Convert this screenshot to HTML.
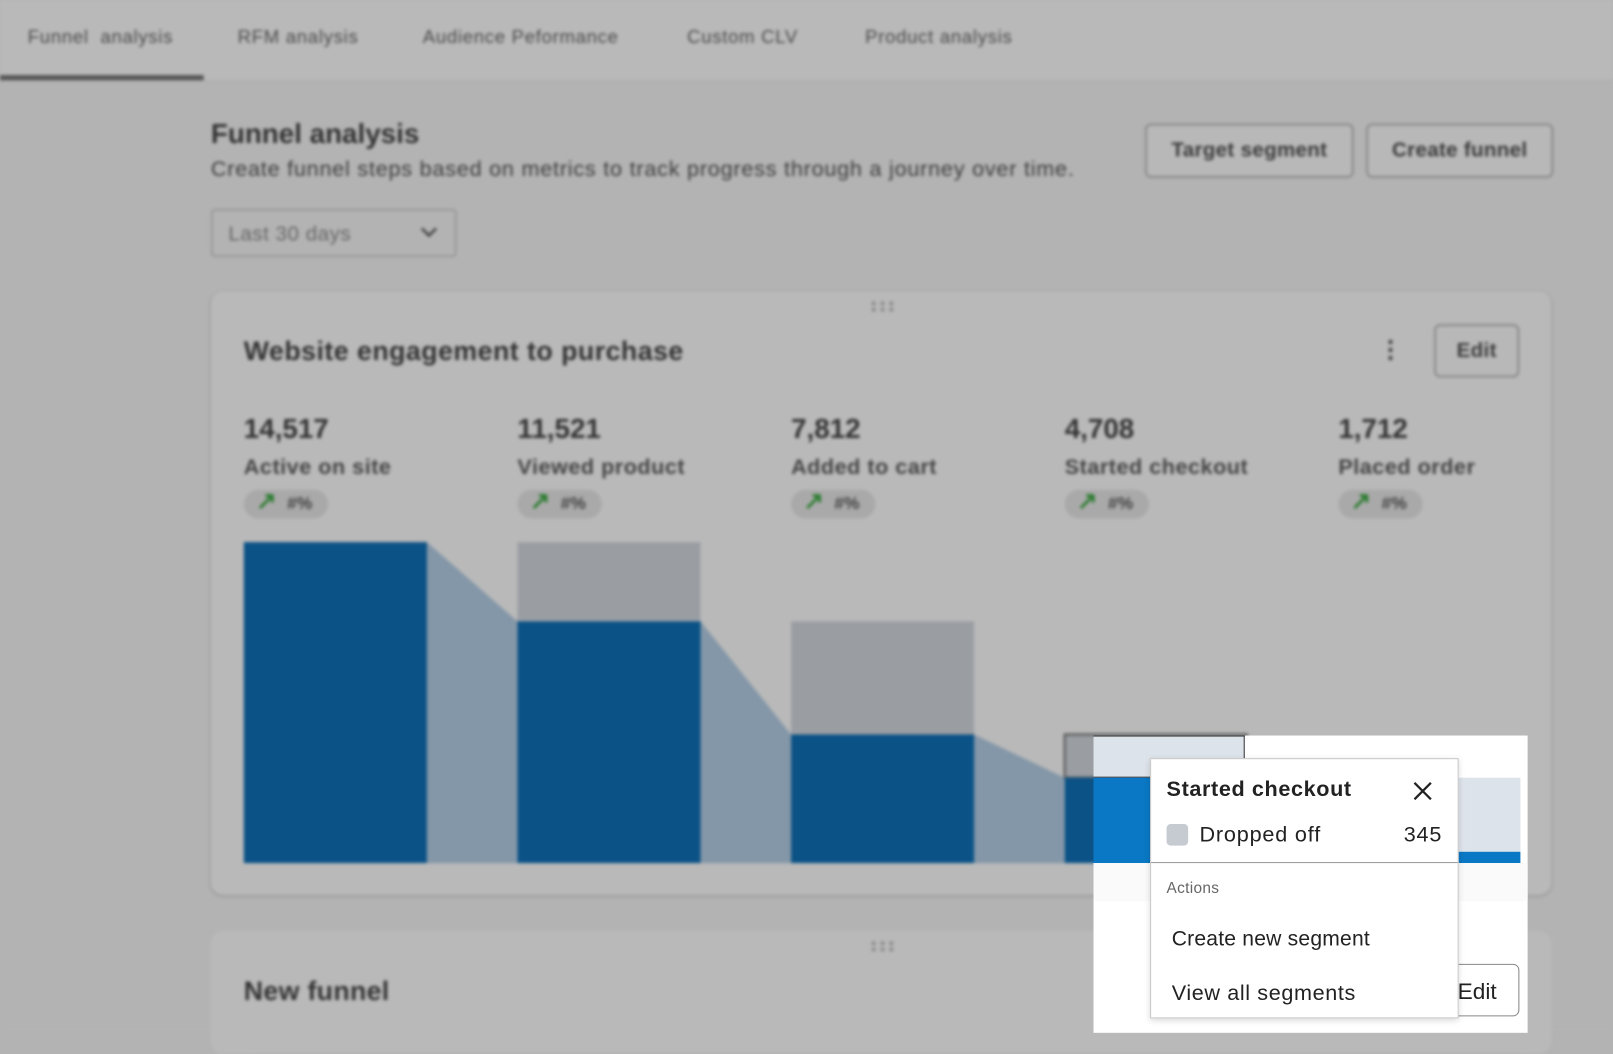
<!DOCTYPE html>
<html><head><meta charset="utf-8"><style>
html,body{margin:0;padding:0;width:1613px;height:1033px;overflow:hidden;background:#b3b3b3;font-family:"Liberation Sans",sans-serif;}
#wrap{position:absolute;left:0;top:0;width:1568px;height:1004px;transform:scale(1.02870);transform-origin:0 0;}
#bg{position:absolute;left:0;top:0;width:1568px;height:1004px;background:#b3b3b3;filter:blur(1.5px);}
.a{position:absolute;}
.tab{position:absolute;top:26px;font-size:18px;color:#4a4a4a;letter-spacing:0.7px;}
.btn{position:absolute;border:2px solid #8a8a8a;border-radius:6px;box-sizing:border-box;font-size:20px;font-weight:bold;color:#3a3a3a;display:flex;align-items:center;justify-content:center;background:#b8b8b8;letter-spacing:0.3px;}
.num{position:absolute;top:402px;font-size:27px;font-weight:bold;color:#333;}
.lbl{position:absolute;top:443px;font-size:21px;color:#444;letter-spacing:0.5px;font-weight:bold;}
.pill{position:absolute;top:476px;width:82px;height:28px;border-radius:14px;background:#a9a9a9;font-size:17px;font-weight:bold;color:#444;line-height:28px;box-sizing:border-box;padding-left:42px;}
.pill:before{content:"↗";position:absolute;left:12px;top:-2px;color:#2e7d32;font-size:24px;font-weight:bold;}
.dots{position:absolute;width:26px;height:12px;background-image:radial-gradient(circle,#888 1.8px,transparent 2.2px);background-size:8.6px 6px;}
</style></head><body><div id="wrap">
<div id="bg">
 <div class="a" style="left:0;top:0;width:1568px;height:78px;background:#b9b9b9;border-bottom:1px solid #a8a8a8"></div>
 <div class="a" style="left:0;top:73px;width:198px;height:5px;background:#555"></div>
 <div class="tab" style="left:27px">Funnel&nbsp; analysis</div>
 <div class="tab" style="left:231px">RFM analysis</div>
 <div class="tab" style="left:411px">Audience Peformance</div>
 <div class="tab" style="left:668px">Custom CLV</div>
 <div class="tab" style="left:841px">Product analysis</div>
 <div class="a" style="left:205px;top:115px;font-size:27px;font-weight:bold;color:#333">Funnel analysis</div>
 <div class="a" style="left:205px;top:153px;font-size:21px;color:#3c3c3c;letter-spacing:0.75px">Create funnel steps based on metrics to track progress through a journey over time.</div>
 <div class="btn" style="left:1113px;top:120px;width:203px;height:53px">Target segment</div>
 <div class="btn" style="left:1328px;top:120px;width:182px;height:53px">Create funnel</div>
 <div class="a" style="left:205px;top:203px;width:239px;height:47px;border:2px solid #999;border-radius:4px;box-sizing:border-box;font-size:20px;color:#666;padding:12px 0 0 15px;letter-spacing:0.5px">Last 30 days<svg style="position:absolute;right:16px;top:15px" width="18" height="12"><path d="M2 2L9 9L16 2" stroke="#444" stroke-width="2.5" fill="none"/></svg></div>
 <div class="a" style="left:205px;top:283px;width:1303px;height:587px;background:#b9b9b9;border-radius:12px;box-shadow:0 1px 3px rgba(0,0,0,.2)"></div>
 <div class="dots" style="left:845px;top:292px"></div>
 <div class="a" style="left:237px;top:326px;font-size:26px;font-weight:bold;color:#333;letter-spacing:0.45px">Website engagement to purchase</div>
 <div class="a" style="left:1348px;top:328px;font-size:26px;font-weight:bold;color:#444;line-height:8px">·<br>·<br>·</div>
 <div class="btn" style="left:1394px;top:315px;width:83px;height:52px">Edit</div>
 <div class="num" style="left:237px">14,517</div><div class="lbl" style="left:237px">Active on site</div><div class="pill" style="left:237px">#%</div>
 <div class="num" style="left:503px">11,521</div><div class="lbl" style="left:503px">Viewed product</div><div class="pill" style="left:503px">#%</div>
 <div class="num" style="left:769px">7,812</div><div class="lbl" style="left:769px">Added to cart</div><div class="pill" style="left:769px">#%</div>
 <div class="num" style="left:1035px">4,708</div><div class="lbl" style="left:1035px">Started checkout</div><div class="pill" style="left:1035px">#%</div>
 <div class="num" style="left:1301px">1,712</div><div class="lbl" style="left:1301px">Placed order</div><div class="pill" style="left:1301px">#%</div>
 <svg class="a" style="left:0;top:0" width="1568" height="1004">
  <polygon points="415,527 503,604 503,839 415,839" fill="#8497a8"/>
  <polygon points="681,604 769,714 769,839 681,839" fill="#8497a8"/>
  <polygon points="947,714 1035,756 1035,839 947,839" fill="#8497a8"/>
  <rect x="237" y="527" width="178" height="312" fill="#0b5286"/>
  <rect x="503" y="527" width="178" height="77" fill="#9a9ea3"/>
  <rect x="503" y="604" width="178" height="235" fill="#0b5286"/>
  <rect x="769" y="604" width="178" height="110" fill="#9a9ea3"/>
  <rect x="769" y="714" width="178" height="125" fill="#0b5286"/>
  <rect x="1035" y="714" width="177" height="42" fill="#9a9ea3" stroke="#555" stroke-width="2"/>
  <rect x="1035" y="756" width="177" height="83" fill="#0b5286"/>
 </svg>
 <div class="a" style="left:205px;top:905px;width:1303px;height:120px;background:#b9b9b9;border-radius:12px"></div>
 <div class="dots" style="left:845px;top:914px"></div>
 <div class="a" style="left:237px;top:948px;font-size:26px;font-weight:bold;color:#333;letter-spacing:0.3px">New funnel</div>
</div>
<div class="a" style="left:1063px;top:715px;width:422px;height:289px;background:#fff"></div>
<div class="a" style="left:1063px;top:715px;width:147px;height:41px;background:#dde3ea;border:1px solid #333;border-left:none;box-sizing:border-box"></div>
<div class="a" style="left:1063px;top:756px;width:149px;height:83px;background:#0a78c4"></div>
<div class="a" style="left:1212px;top:756px;width:266px;height:72px;background:#dde3ea"></div>
<div class="a" style="left:1212px;top:828px;width:266px;height:11px;background:#0a78c4"></div>
<div class="a" style="left:1063px;top:839px;width:422px;height:37px;background:#fafafa"></div>
<div class="a" style="left:1380px;top:937px;width:97px;height:51px;border:1.5px solid #888;border-radius:6px;box-sizing:border-box;font-size:22px;color:#222;padding:13px 0 0 36px">Edit</div>
<div class="a" style="left:1118px;top:737px;width:300px;height:253px;background:#fff;border:1px solid #c8c8c8;box-sizing:border-box;box-shadow:0 2px 6px rgba(0,0,0,.15)">
 <div class="a" style="left:15px;top:18px;font-size:21px;font-weight:bold;color:#222;letter-spacing:0.6px">Started checkout</div>
 <svg class="a" style="left:254px;top:21px" width="20" height="20"><path d="M2 2L18 18M18 2L2 18" stroke="#222" stroke-width="2.2"/></svg>
 <div class="a" style="left:15px;top:63px;width:21px;height:21px;border-radius:4px;background:#c6cbd2"></div>
 <div class="a" style="left:47px;top:62px;font-size:21px;color:#222;letter-spacing:0.8px">Dropped off</div>
 <div class="a" style="right:15px;top:62px;font-size:21px;color:#222;letter-spacing:0.8px">345</div>
 <div class="a" style="left:0;top:100px;width:298px;height:1px;background:#999"></div>
 <div class="a" style="left:15px;top:117px;font-size:15px;color:#666;letter-spacing:0.3px">Actions</div>
 <div class="a" style="left:20px;top:163px;font-size:20.5px;color:#222;letter-spacing:0.2px">Create new segment</div>
 <div class="a" style="left:20px;top:216px;font-size:21px;color:#222;letter-spacing:0.6px">View all segments</div>
</div>
</div></body></html>
